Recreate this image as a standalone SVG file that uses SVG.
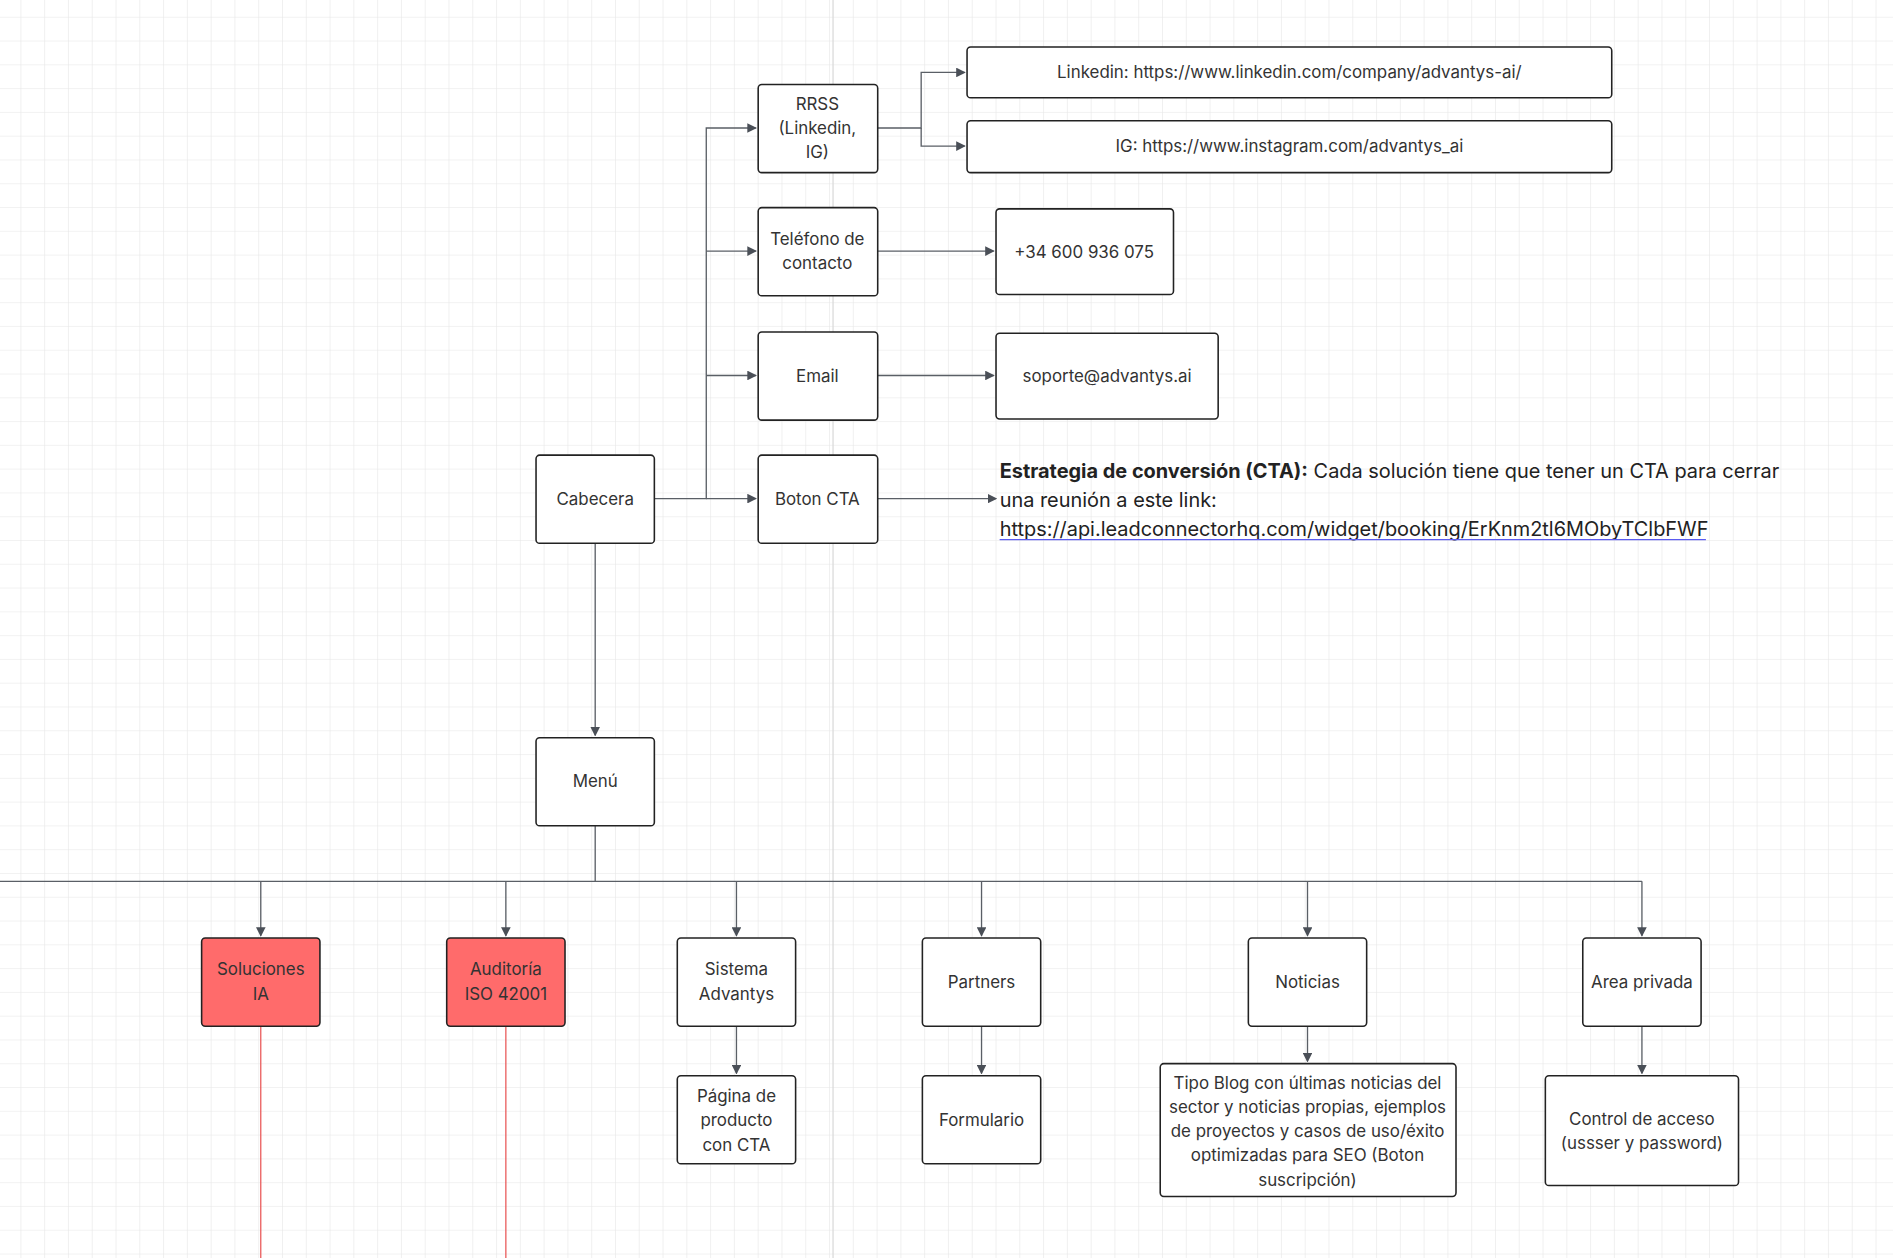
<svg xmlns="http://www.w3.org/2000/svg" width="1893" height="1258" viewBox="0 0 1893 1258">
<defs>
<pattern id="grid" width="19.7" height="19.7" patternUnits="userSpaceOnUse" x="-2" y="-5">
<path d="M19.7 0V19.7H0" fill="none" stroke="#e6e6e6" stroke-width="1"/>
</pattern>
<marker id="ar" markerWidth="8" markerHeight="8" refX="7" refY="4" orient="auto" markerUnits="userSpaceOnUse">
<path d="M0,0 L8,4 L0,8 Z" fill="#4a4f57"/>
</marker>
<style>
.n{fill:#fff;stroke:#222;stroke-width:1.3}
.r{fill:#ff6b6b;stroke:#222;stroke-width:1.3}
.t{font-family:Inter,"Liberation Sans",sans-serif;font-size:14px;fill:#333;text-anchor:middle}
.c{fill:none;stroke:#5a5f66;stroke-width:1.1}
</style>
</defs>
<rect width="1893" height="1258" fill="#fff"/>
<g transform="scale(1.2073)">
<rect width="1568" height="1042" fill="url(#grid)"/>
<line x1="690" y1="0" x2="690" y2="1042" stroke="#d8d8d8"/>
<g id="connectors">
<path class="c" d="M542 413H585V106H626" marker-end="url(#ar)"/>
<path class="c" d="M585 208H626" marker-end="url(#ar)"/>
<path class="c" d="M585 311H626" marker-end="url(#ar)"/>
<path class="c" d="M585 413H626" marker-end="url(#ar)"/>
<path class="c" d="M727 413H825" marker-end="url(#ar)"/>
<path class="c" d="M727 106H763V60H799" marker-end="url(#ar)"/>
<path class="c" d="M763 106V121H799" marker-end="url(#ar)"/>
<path class="c" d="M727 208H823" marker-end="url(#ar)"/>
<path class="c" d="M727 311H823" marker-end="url(#ar)"/>
<path class="c" d="M493 450V609" marker-end="url(#ar)"/>
<path class="c" d="M493 684V730"/>
<path class="c" d="M0 730H1360" />
<path class="c" d="M216 730V775" marker-end="url(#ar)"/>
<path class="c" d="M419 730V775" marker-end="url(#ar)"/>
<path class="c" d="M610 730V775" marker-end="url(#ar)"/>
<path class="c" d="M813 730V775" marker-end="url(#ar)"/>
<path class="c" d="M1083 730V775" marker-end="url(#ar)"/>
<path class="c" d="M1360 730V775" marker-end="url(#ar)"/>
<path class="c" d="M610 850V889" marker-end="url(#ar)"/>
<path class="c" d="M813 850V889" marker-end="url(#ar)"/>
<path class="c" d="M1083 850V879" marker-end="url(#ar)"/>
<path class="c" d="M1360 850V889" marker-end="url(#ar)"/>
<path d="M216 850V1042M419 850V1042" stroke="#e85050" stroke-width="1"/>
</g>
<g id="cabecera"><rect class="n" x="444" y="377" width="98" height="73" rx="3"/><text class="t" x="493" y="418">Cabecera</text></g>
<g id="rrss"><rect class="n" x="628" y="70" width="99" height="73" rx="3"/><text class="t" x="677" y="91">RRSS</text><text class="t" x="677" y="111">(Linkedin,</text><text class="t" x="677" y="131">IG)</text></g>
<g id="telefono"><rect class="n" x="628" y="172" width="99" height="73" rx="3"/><text class="t" x="677" y="203">Teléfono de</text><text class="t" x="677" y="223">contacto</text></g>
<g id="email"><rect class="n" x="628" y="275" width="99" height="73" rx="3"/><text class="t" x="677" y="316">Email</text></g>
<g id="boton"><rect class="n" x="628" y="377" width="99" height="73" rx="3"/><text class="t" x="677" y="418">Boton CTA</text></g>
<g id="linkedin"><rect class="n" x="801" y="39" width="534" height="42" rx="3"/><text class="t" x="1068" y="65">Linkedin: https://www.linkedin.com/company/advantys-ai/</text></g>
<g id="ig"><rect class="n" x="801" y="100" width="534" height="43" rx="3"/><text class="t" x="1068" y="126">IG: https://www.instagram.com/advantys_ai</text></g>
<g id="phone"><rect class="n" x="825" y="173" width="147" height="71" rx="3"/><text class="t" x="898" y="214">+34 600 936 075</text></g>
<g id="soporte"><rect class="n" x="825" y="276" width="184" height="71" rx="3"/><text class="t" x="917" y="316">soporte@advantys.ai</text></g>
<g id="cta-note" font-family="Inter,'Liberation Sans',sans-serif" font-size="16.5" fill="#222">
<text x="828" y="396"><tspan font-weight="bold">Estrategia de conversión (CTA):</tspan> Cada solución tiene que tener un CTA para cerrar</text>
<text x="828" y="420">una reunión a este link:</text>
<text x="828" y="444">https://api.leadconnectorhq.com/widget/booking/ErKnm2tl6MObyTClbFWF</text>
<line x1="828" y1="447" x2="1413" y2="447" stroke="#5b5bf0" stroke-width="1"/>
</g>
<g id="menu"><rect class="n" x="444" y="611" width="98" height="73" rx="3"/><text class="t" x="493" y="652">Menú</text></g>
<g id="soluciones"><rect class="r" x="167" y="777" width="98" height="73" rx="3"/><text class="t" x="216" y="808">Soluciones</text><text class="t" x="216" y="828">IA</text></g>
<g id="auditoria"><rect class="r" x="370" y="777" width="98" height="73" rx="3"/><text class="t" x="419" y="808">Auditoría</text><text class="t" x="419" y="828">ISO 42001</text></g>
<g id="sistema"><rect class="n" x="561" y="777" width="98" height="73" rx="3"/><text class="t" x="610" y="808">Sistema</text><text class="t" x="610" y="828">Advantys</text></g>
<g id="partners"><rect class="n" x="764" y="777" width="98" height="73" rx="3"/><text class="t" x="813" y="818">Partners</text></g>
<g id="noticias"><rect class="n" x="1034" y="777" width="98" height="73" rx="3"/><text class="t" x="1083" y="818">Noticias</text></g>
<g id="area"><rect class="n" x="1311" y="777" width="98" height="73" rx="3"/><text class="t" x="1360" y="818">Area privada</text></g>
<g id="pagina"><rect class="n" x="561" y="891" width="98" height="73" rx="3"/><text class="t" x="610" y="913">Página de</text><text class="t" x="610" y="933">producto</text><text class="t" x="610" y="953">con CTA</text></g>
<g id="formulario"><rect class="n" x="764" y="891" width="98" height="73" rx="3"/><text class="t" x="813" y="933">Formulario</text></g>
<g id="blog"><rect class="n" x="961" y="881" width="245" height="110" rx="3"/><text class="t" x="1083" y="902">Tipo Blog con últimas noticias del</text><text class="t" x="1083" y="922">sector y noticias propias, ejemplos</text><text class="t" x="1083" y="942">de proyectos y casos de uso/éxito</text><text class="t" x="1083" y="962">optimizadas para SEO (Boton</text><text class="t" x="1083" y="982">suscripción)</text></g>
<g id="control"><rect class="n" x="1280" y="891" width="160" height="91" rx="3"/><text class="t" x="1360" y="932">Control de acceso</text><text class="t" x="1360" y="952">(ussser y password)</text></g>
</g>
</svg>
